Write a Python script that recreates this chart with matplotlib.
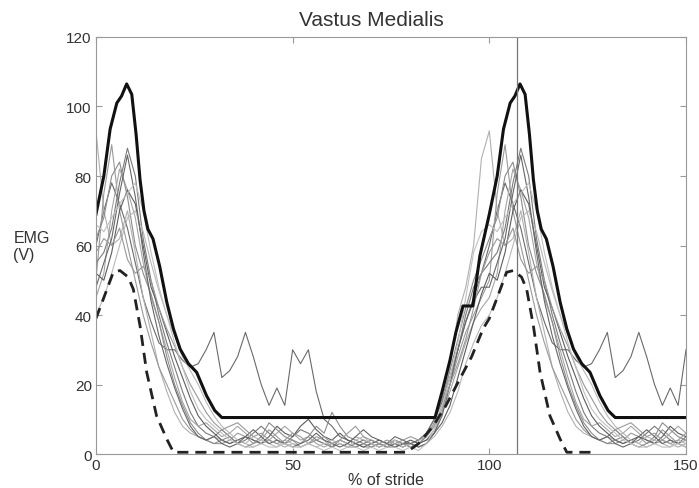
import numpy as np
import matplotlib
matplotlib.use("Agg")
import matplotlib.pyplot as plt

plt.rcParams['font.family'] = ['Liberation Sans', 'DejaVu Sans']

# one stride cycle, sampled every 2 % (0..98); the cycle is repeated for 100..150
stride = np.arange(0, 100, 2)

trial_1 = [60, 70, 78, 72, 65, 55, 45, 38, 32, 30, 30, 27, 25, 26, 30, 35, 22, 24, 28, 35,
           28, 20, 14, 19, 14, 30, 26, 30, 18, 10, 8, 5, 4, 3, 4, 3, 2, 3, 2, 3,
           3, 4, 6, 10, 15, 22, 30, 38, 45, 52]
trial_2 = [93, 70, 60, 62, 70, 58, 45, 35, 25, 18, 12, 8, 6, 5, 4, 5, 4, 3, 4, 3,
           2, 3, 4, 3, 2, 3, 2, 3, 4, 3, 2, 3, 2, 2, 3, 2, 3, 2, 3, 2,
           3, 2, 3, 6, 12, 25, 40, 48, 60, 85]
trial_3 = [50, 75, 89, 70, 60, 50, 40, 32, 25, 20, 15, 10, 7, 5, 4, 3, 3, 4, 6, 5,
           3, 4, 7, 5, 3, 4, 2, 3, 5, 4, 2, 3, 2, 3, 2, 2, 3, 2, 2, 3,
           2, 3, 5, 8, 14, 20, 28, 35, 40, 45]
trial_4 = [55, 58, 65, 78, 88, 80, 62, 50, 40, 32, 25, 18, 12, 8, 6, 5, 7, 5, 3, 4,
           6, 8, 6, 4, 3, 5, 7, 6, 4, 3, 2, 4, 3, 2, 3, 4, 3, 2, 3, 2,
           3, 4, 6, 10, 15, 22, 30, 40, 48, 52]
trial_5 = [45, 52, 70, 82, 76, 68, 55, 45, 38, 30, 22, 15, 10, 8, 9, 7, 5, 6, 8, 6,
           4, 3, 4, 6, 8, 6, 4, 5, 3, 2, 3, 4, 3, 5, 4, 3, 2, 3, 4, 3,
           2, 3, 4, 7, 12, 18, 25, 32, 38, 42]
trial_6 = [52, 50, 58, 70, 76, 72, 60, 48, 42, 35, 28, 22, 16, 11, 8, 6, 4, 3, 4, 5,
           4, 3, 5, 8, 6, 5, 8, 10, 7, 5, 4, 6, 4, 3, 2, 3, 4, 3, 2, 3,
           4, 3, 4, 6, 9, 14, 22, 30, 38, 46]
trial_7 = [62, 68, 80, 84, 74, 60, 52, 46, 38, 28, 20, 14, 9, 6, 4, 3, 4, 5, 3, 2,
           3, 5, 9, 7, 5, 4, 3, 5, 8, 6, 12, 8, 5, 4, 3, 2, 3, 2, 4, 3,
           2, 3, 5, 9, 16, 24, 33, 42, 50, 56]
trial_8 = [40, 45, 52, 60, 68, 70, 64, 55, 47, 40, 34, 28, 24, 20, 15, 11, 8, 6, 4, 3,
           5, 4, 3, 2, 4, 3, 2, 3, 2, 3, 4, 3, 2, 4, 5, 3, 2, 3, 4, 2,
           3, 2, 3, 5, 8, 12, 18, 26, 32, 37]
trial_9 = [48, 55, 62, 75, 86, 74, 58, 44, 34, 26, 19, 13, 8, 5, 4, 5, 3, 2, 3, 5,
           7, 5, 3, 4, 3, 2, 3, 4, 6, 4, 3, 2, 3, 5, 7, 5, 4, 3, 5, 4,
           3, 2, 3, 6, 11, 20, 30, 38, 44, 48]
trial_10 = [58, 62, 60, 65, 56, 52, 54, 50, 42, 36, 31, 25, 20, 16, 12, 9, 7, 8, 9, 7,
            5, 6, 4, 3, 4, 6, 5, 3, 4, 5, 3, 4, 6, 8, 5, 4, 3, 4, 3, 4,
            5, 4, 5, 8, 13, 20, 26, 33, 42, 52]
trial_11 = [66, 64, 68, 72, 75, 78, 70, 58, 48, 40, 32, 25, 18, 13, 10, 8, 6, 4, 3, 2,
            2, 3, 2, 2, 3, 2, 2, 3, 2, 1, 2, 1, 2, 2, 1, 2, 1, 2, 2, 1,
            2, 1, 3, 7, 14, 22, 32, 45, 58, 64]
trials = [trial_1, trial_2, trial_3, trial_4, trial_5, trial_6,
          trial_7, trial_8, trial_9, trial_10, trial_11]
trial_grays = ['#6a6a6a', '#b0b0b0', '#9a9a9a', '#7a7a7a', '#a5a5a5', '#5c5c5c',
               '#8c8c8c', '#b8b8b8', '#666666', '#999999', '#c0c0c0']

# upper envelope (thick) and lower envelope (dashed)
upper_x = [0, 2, 3.6, 5.3, 6.5, 7.8, 9.1, 10.2, 11.2, 12.2, 13.2, 14.5, 16.2, 18, 19.7,
           21.4, 23.5, 25.6, 28.1, 30.2, 32, 50, 86.2, 88, 90, 91.5, 93.3, 95.8, 97.6]
upper_y = [69, 80, 93.5, 101, 103, 106.5, 103.5, 92, 79, 70, 64.7, 61.9, 54, 43.7, 36,
           30.2, 26, 23.5, 16.8, 12.5, 10.5, 10.5, 10.5, 18, 27, 35, 42.6, 42.6, 57]
lower_x = [0, 2, 4.4, 6.1, 8.2, 9.5, 11.2, 12.9, 15.4, 18, 19.7, 26, 79, 82, 85.7, 89,
           92.5, 95.5, 98.4]
lower_y = [39, 45, 52.3, 52.8, 50.9, 47.4, 36.9, 23.5, 11, 4.3, 0.5, 0.5, 0.5, 3, 8, 14,
           21.6, 28, 36]
lower_end = 126
heel_strike = 107


def two_cycles(x, y, stop=150):
    x = np.asarray(x, float)
    y = np.asarray(y, float)
    keep = x + 100 <= stop
    return np.concatenate([x, [100], x[keep] + 100]), np.concatenate([y, [y[0]], y[keep]])


fig = plt.figure(figsize=(6.99, 4.89), dpi=100)
ax = fig.add_axes([0.1373, 0.0695, 0.8441, 0.8528])

for tr, c in zip(trials, trial_grays):
    xx, yy = two_cycles(stride, tr)
    ax.plot(xx, yy, color=c, lw=0.8)

xx, yy = two_cycles(lower_x, lower_y, lower_end)
ax.plot(xx, yy, color='#222222', lw=2.0, dashes=(4, 2.5))
xx, yy = two_cycles(upper_x, upper_y)
ax.plot(xx, yy, color='#111111', lw=2.2)

ax.axvline(heel_strike, color='#777777', lw=0.9)

ax.set_xlim(0, 150)
ax.set_ylim(0, 120)
ax.set_xticks([0, 50, 100, 150])
ax.set_yticks([0, 20, 40, 60, 80, 100, 120])
ax.tick_params(direction='in', top=True, right=True, labelsize=11, colors='#999999',
               labelcolor='#333333', length=4, pad=3)
for s in ax.spines.values():
    s.set_color('#999999')

fig.text(371 / 699, 1 - 20 / 489, 'Vastus Medialis', ha='center', va='center',
         fontsize=15, color='#333333')
fig.text(386 / 699, 1 - 481 / 489, '% of stride', ha='center', va='center',
         fontsize=11.5, color='#333333')
fig.text(0.019, 1 - 247 / 489, 'EMG\n(V)', ha='left', va='center', fontsize=11.5,
         color='#333333', linespacing=1.1)

fig.savefig('out.png', dpi=100)
